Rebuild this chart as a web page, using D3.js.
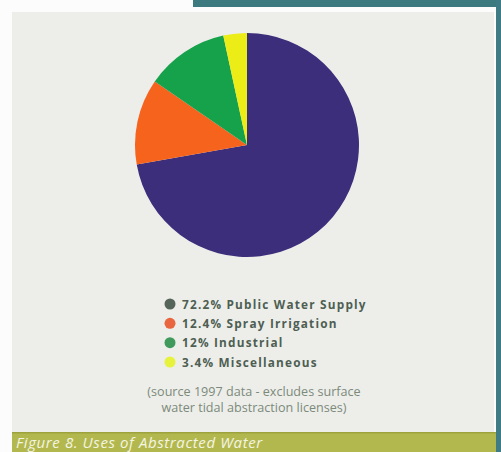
<!DOCTYPE html>
<html>
<head>
<meta charset="utf-8">
<script src="https://cdn.jsdelivr.net/npm/d3@7"></script>
<style>
  html, body { margin: 0; padding: 0; background: #fbfcfb; }
  svg { display: block; }
</style>
</head>
<body>
<svg id="chart" width="501" height="452"></svg>
<script>
// Shares of abstracted water by use (1997)
const categories = ["Public Water Supply", "Spray Irrigation", "Industrial", "Miscellaneous"];
const shares = [72.2, 12.4, 12, 3.4];
const sliceColors = ["#3c2d7b", "#f5631f", "#17a14c", "#ecec14"];
const legendDotColors = ["#56655a", "#e8653f", "#3f9a5c", "#e6f23c"];
const sourceLines = ["(source 1997 data - excludes surface", "water tidal abstraction licenses)"];
const caption = "Figure 8. Uses of Abstracted Water";

const svg = d3.select("#chart");
const W = 501, H = 452;

// page furniture: teal header strip, right rule, panel, caption bar
svg.append("rect").attr("x", 0).attr("y", 0).attr("width", W).attr("height", H).attr("fill", "#fbfcfb");
svg.append("rect").attr("x", 193).attr("y", 0).attr("width", W - 193).attr("height", 7).attr("fill", "#3d7a7f");
svg.append("rect").attr("x", 496).attr("y", 0).attr("width", 5).attr("height", H).attr("fill", "#3f7b85");
svg.append("rect").attr("x", 12).attr("y", 12).attr("width", 482).attr("height", 422).attr("fill", "#edeeea");
svg.append("rect").attr("x", 12).attr("y", 432).attr("width", 484).attr("height", 20).attr("fill", "#b3b84e");
svg.append("rect").attr("x", 12).attr("y", 432).attr("width", 484).attr("height", 1.5).attr("fill", "#9ea23c");

svg.append("text")
  .attr("x", 16).attr("y", 448)
  .attr("font-family", "'Open Sans', sans-serif")
  .attr("font-style", "italic")
  .attr("font-size", 15)
  .attr("letter-spacing", 0.6)
  .attr("fill", "#f3f5e2")
  .text(caption);

// pie
const cx = 247, cy = 145, r = 112;
const pie = d3.pie().sort(null).value(d => d)(shares);
const arc = d3.arc().innerRadius(0).outerRadius(r);

const defs = svg.append("defs");
defs.append("filter").attr("id", "soft")
  .append("feGaussianBlur").attr("stdDeviation", 0.5);

const g = svg.append("g").attr("transform", `translate(${cx},${cy})`).attr("filter", "url(#soft)");
g.selectAll("path")
  .data(pie)
  .join("path")
  .attr("d", arc)
  .attr("fill", (d, i) => sliceColors[i]);

// legend
const rowY = d3.scaleLinear().domain([0, 3]).range([304, 362]);
const legend = svg.append("g");
const rows = legend.selectAll("g")
  .data(categories)
  .join("g")
  .attr("transform", (d, i) => `translate(0,${rowY(i)})`);

rows.append("circle")
  .attr("cx", 170).attr("cy", 0).attr("r", 5.5)
  .attr("fill", (d, i) => legendDotColors[i]);

rows.append("text")
  .attr("x", 182).attr("y", 4.5)
  .attr("font-family", "'Open Sans', sans-serif")
  .attr("font-weight", 700)
  .attr("font-size", 11.8)
  .attr("letter-spacing", 1.2)
  .attr("fill", "#4e5e52")
  .text((d, i) => `${shares[i]}% ${d}`);

// source note
svg.append("g").selectAll("text")
  .data(sourceLines)
  .join("text")
  .attr("x", 254)
  .attr("y", (d, i) => 396 + i * 15.5)
  .attr("text-anchor", "middle")
  .attr("font-family", "'Open Sans', sans-serif")
  .attr("font-size", 12.6)
  .attr("fill", "#7c8a7a")
  .text(d => d);
</script>
</body>
</html>
